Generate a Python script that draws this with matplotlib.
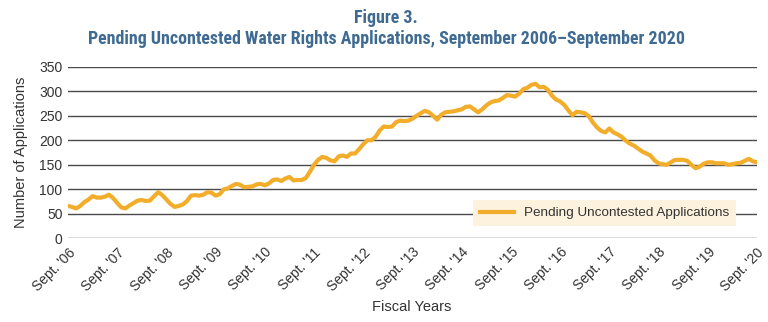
import matplotlib
matplotlib.use("Agg")
import matplotlib.pyplot as plt
from matplotlib import font_manager
import matplotlib.transforms as mtransforms
import numpy as np

values = [66, 64, 61, 66, 74, 79, 86, 83, 83, 85, 89, 82,
          72, 63, 61, 67, 72, 77, 78, 76, 77, 86, 94, 88,
          79, 70, 64, 66, 69, 76, 87, 88, 87, 89, 94, 93,
          87, 90, 100, 102, 107, 111, 109, 104, 105, 106, 110, 111,
          108, 112, 119, 120, 117, 122, 125, 118, 119, 119, 123, 136,
          150, 160, 166, 164, 159, 157, 167, 169, 166, 173, 173, 182,
          192, 200, 200, 207, 220, 228, 227, 228, 237, 240, 239, 240,
          244, 250, 255, 260, 257, 250, 242, 252, 257, 258, 259, 261,
          263, 268, 269, 263, 257, 263, 271, 277, 280, 281, 286, 292,
          291, 289, 295, 304, 307, 313, 315, 308, 309, 303, 291, 283,
          279, 272, 261, 251, 258, 257, 255, 249, 236, 226, 219, 216,
          224, 216, 212, 207, 199, 193, 189, 183, 177, 173, 169, 159,
          153, 151, 150, 155, 160, 160, 160, 158, 150, 143, 146, 152,
          155, 155, 153, 153, 153, 150, 151, 153, 154, 158, 162, 157,
          155]
tick_labels = ["Sept. '06", "Sept. '07", "Sept. '08", "Sept. '09", "Sept. '10",
               "Sept. '11", "Sept. '12", "Sept. '13", "Sept. '14", "Sept. '15",
               "Sept. '16", "Sept. '17", "Sept. '18", "Sept. '19", "Sept. '20"]
y_ticks = [0, 50, 100, 150, 200, 250, 300, 350]
series_name = "Pending Uncontested Applications"
title1 = "Figure 3."
title2 = "Pending Uncontested Water Rights Applications, September 2006\u2013September 2020"

plt.rcParams['font.family'] = ['Liberation Sans', 'DejaVu Sans']

available = {f.name for f in font_manager.fontManager.ttflist}
title_family = 'Liberation Sans'
for cand in ['Liberation Sans Narrow', 'DejaVu Sans Condensed', 'Roboto Condensed',
             'Open Sans Condensed', 'Liberation Sans']:
    if cand in available:
        title_family = cand
        break

W, H = 768, 322
fig = plt.figure(figsize=(W / 100, H / 100), dpi=100)
left, right = 68 / W, 757 / W
top, bottom = 1 - 66.7 / H, 1 - 238.3 / H
ax = fig.add_axes([left, bottom, right - left, top - bottom])

months = np.arange(len(values))
ax.plot(months, values, color='#f2ad2b', lw=3.0, solid_joinstyle='round',
        label=series_name, zorder=3)

ax.set_xlim(0, len(values) - 1)
ax.set_ylim(0, 350)
ax.set_yticks(y_ticks)
ax.set_xticks(np.arange(0, len(values), 12))
ax.set_xticklabels(tick_labels, rotation=45, ha='right', rotation_mode='anchor',
                   fontsize=10, color='#333333')
offset = mtransforms.ScaledTranslation(4 / 72, 0, fig.dpi_scale_trans)
for lbl in ax.get_xticklabels():
    lbl.set_va('top')
    lbl.set_transform(lbl.get_transform() + offset)
ax.tick_params(axis='y', labelsize=10, labelcolor='#333333', length=0, pad=4)
ax.tick_params(axis='x', length=0, pad=5)
for s in ax.spines.values():
    s.set_visible(False)
ax.grid(axis='y', color='#4a4a4a', lw=1.0)
ax.set_axisbelow(True)

ax.set_ylabel('Number of Applications', fontsize=10.5, color='#333333', labelpad=8)
fig.text(412 / W, 1 - 307 / H, 'Fiscal Years', ha='center', va='center',
         fontsize=10.5, color='#333333')

leg = ax.legend(loc='center', bbox_to_anchor=(0.779, 0.147), frameon=True,
                fancybox=False, facecolor='#fdf2de', edgecolor='none',
                framealpha=1, fontsize=9.7, handlelength=2.5,
                borderpad=0.5, labelcolor='#333333')

title_color = '#3f6b93'
t1 = fig.text(386 / W, 1 - 18 / H, title1, ha='center', va='center',
              fontsize=15, fontweight='bold', family=title_family, color=title_color)
t2 = fig.text(386 / W, 1 - 39 / H, title2, ha='center', va='center',
              fontsize=15, fontweight='bold', family=title_family, color=title_color)

# fit title line 2 to the reference width (~596 px)
fig.canvas.draw()
renderer = fig.canvas.get_renderer()
w2 = t2.get_window_extent(renderer).width
scale = 596.0 / w2
t2.set_fontsize(15 * scale)
t1.set_fontsize(15 * scale)

fig.savefig('out.png', dpi=100)
